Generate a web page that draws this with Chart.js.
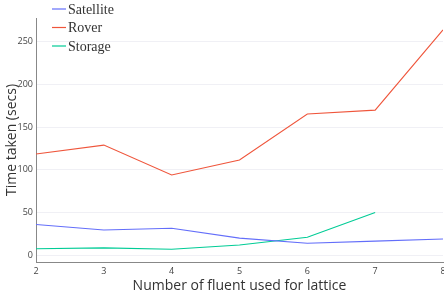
<!DOCTYPE html>
<html>
<head>
<meta charset="utf-8">
<script src="https://cdn.jsdelivr.net/npm/chart.js@4"></script>
<style>
  html, body { margin: 0; padding: 0; background: #fff; }
  #wrap { width: 444px; height: 300px; }
</style>
</head>
<body>
<div id="wrap"><canvas id="grafico"></canvas></div>
<script>
// valores
const fluents = [2, 3, 4, 5, 6, 7, 8];
const satellite = [36, 29.5, 31.5, 20, 14, 16.5, 19];
const rover = [118.5, 129, 94, 111.5, 165.5, 170, 264];
const storage = [7.5, 8.5, 7, 12, 21, 50];
const yTicks = [0, 50, 100, 150, 200, 250];
const seriesNames = ['Satellite', 'Rover', 'Storage'];
const seriesColors = ['#636efa', '#ef553b', '#00cc96'];

function pontos(vals) {
  return vals.map((v, i) => ({ x: fluents[i], y: v }));
}

// legenda desenhada à mão, sobreposta ao gráfico
const legendaManual = {
  id: 'legendaManual',
  afterDraw(chart) {
    const ctx = chart.ctx;
    ctx.save();
    ctx.font = '14px "Liberation Serif", "DejaVu Serif", serif';
    ctx.textBaseline = 'middle';
    chart.data.datasets.forEach((ds, i) => {
      const y = 9 + i * 18.5;
      ctx.strokeStyle = ds.borderColor;
      ctx.lineWidth = 1.2;
      ctx.beginPath();
      ctx.moveTo(52, y);
      ctx.lineTo(66, y);
      ctx.stroke();
      ctx.fillStyle = '#333';
      ctx.fillText(ds.label, 68, y + 1);
    });
    ctx.restore();
  }
};

const ctx = document.getElementById('grafico');
new Chart(ctx, {
  type: 'line',
  data: {
    datasets: [
      { label: seriesNames[0], data: pontos(satellite), borderColor: seriesColors[0] },
      { label: seriesNames[1], data: pontos(rover), borderColor: seriesColors[1] },
      { label: seriesNames[2], data: pontos(storage), borderColor: seriesColors[2] }
    ].map(d => Object.assign(d, {
      borderWidth: 1.1, pointRadius: 0, tension: 0, fill: false
    }))
  },
  options: {
    responsive: true,
    maintainAspectRatio: false,
    animation: false,
    layout: { padding: { top: 18, right: 1, left: 0, bottom: 0 } },
    plugins: { legend: { display: false }, tooltip: { enabled: false } },
    scales: {
      x: {
        type: 'linear',
        min: 2, max: 8,
        afterFit: s => { s.height = 38; s.paddingLeft = 0; s.paddingRight = 0; },
        afterBuildTicks: s => { s.ticks = fluents.map(v => ({ value: v })); },
        grid: { display: false, drawTicks: false },
        border: { color: '#888', width: 1 },
        ticks: { color: '#444', font: { family: '"Open Sans"', size: 9 }, padding: 4, maxRotation: 0 },
        title: {
          display: true, text: 'Number of fluent used for lattice',
          color: '#333', font: { family: '"Open Sans"', size: 14 },
          padding: { top: 0, bottom: 6 }
        }
      },
      y: {
        min: -8, max: 278,
        afterFit: s => { s.width = 36; s.paddingTop = 0; s.paddingBottom = 0; },
        afterBuildTicks: s => { s.ticks = yTicks.map(v => ({ value: v })); },
        grid: { color: '#f0f0f5', drawTicks: false },
        border: { color: '#888', width: 1 },
        ticks: { color: '#444', font: { family: '"Open Sans"', size: 9 }, padding: 3 },
        title: {
          display: true, text: 'Time taken (secs)',
          color: '#333', font: { family: '"Open Sans"', size: 14 },
          padding: { top: 4, bottom: 0 }
        }
      }
    }
  },
  plugins: [legendaManual]
});
</script>
</body>
</html>
